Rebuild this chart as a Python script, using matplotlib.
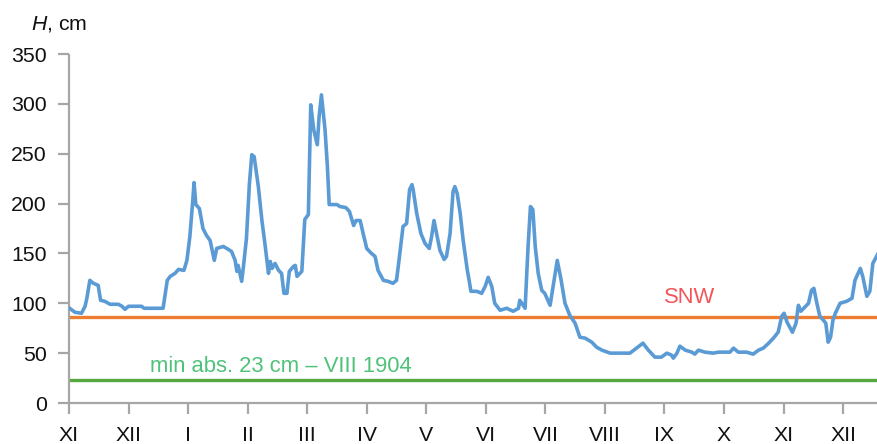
import matplotlib
matplotlib.use("Agg")
import matplotlib.pyplot as plt

plt.rcParams['font.family'] = ['Liberation Sans', 'DejaVu Sans']
plt.rcParams['mathtext.fontset'] = 'custom'
plt.rcParams['mathtext.it'] = 'Liberation Sans:italic'
plt.rcParams['mathtext.rm'] = 'Liberation Sans'

# Month labels (November of one year through December of the next)
month_labels = ["XI", "XII", "I", "II", "III", "IV", "V", "VI",
                "VII", "VIII", "IX", "X", "XI", "XII"]

# Water level H (cm); time in months elapsed since 1 November
t_month = [
    0.01, 0.10, 0.21, 0.27, 0.30, 0.35, 0.41, 0.49, 0.53, 0.60,
    0.69, 0.83, 0.89, 0.94, 1.00, 1.22, 1.26, 1.58, 1.65, 1.70,
    1.78, 1.84, 1.93, 1.98, 2.03, 2.08, 2.10, 2.13, 2.19, 2.25,
    2.31, 2.37, 2.44, 2.48, 2.59, 2.65, 2.73, 2.79, 2.82, 2.84,
    2.90, 2.93, 2.98, 3.03, 3.07, 3.11, 3.18, 3.24, 3.29, 3.35,
    3.38, 3.41, 3.46, 3.52, 3.57, 3.61, 3.66, 3.70, 3.77, 3.80,
    3.83, 3.91, 3.96, 4.02, 4.06, 4.11, 4.17, 4.20, 4.24, 4.30,
    4.34, 4.37, 4.50, 4.55, 4.65, 4.71, 4.78, 4.82, 4.89, 4.94,
    5.00, 5.08, 5.14, 5.19, 5.28, 5.36, 5.44, 5.50, 5.53, 5.61,
    5.67, 5.72, 5.76, 5.78, 5.84, 5.91, 5.98, 6.05, 6.09, 6.13,
    6.18, 6.23, 6.30, 6.34, 6.40, 6.45, 6.48, 6.52, 6.57, 6.62,
    6.69, 6.72, 6.75, 6.85, 6.93, 6.99, 7.04, 7.10, 7.15, 7.24,
    7.35, 7.46, 7.55, 7.57, 7.66, 7.71, 7.75, 7.79, 7.83, 7.88,
    7.94, 7.99, 8.08, 8.13, 8.20, 8.26, 8.33, 8.41, 8.50, 8.58,
    8.67, 8.78, 8.86, 8.95, 9.09, 9.42, 9.53, 9.64, 9.73, 9.84,
    9.95, 10.04, 10.12, 10.15, 10.21, 10.26, 10.35, 10.46, 10.51, 10.57,
    10.68, 10.82, 10.91, 11.10, 11.16, 11.24, 11.38, 11.49, 11.58, 11.66,
    11.75, 11.83, 11.91, 11.97, 12.01, 12.06, 12.15, 12.21, 12.25, 12.29,
    12.34, 12.42, 12.47, 12.51, 12.56, 12.61, 12.67, 12.71, 12.75, 12.79,
    12.83, 12.87, 12.95, 13.06, 13.15, 13.20, 13.29, 13.33, 13.40, 13.45,
    13.50, 13.58,
]
h_cm = [
    95, 91, 90, 97, 105, 123, 120, 118, 103, 102,
    99, 99, 97, 94, 97, 97, 95, 95, 123, 127,
    130, 134, 133, 143, 167, 204, 221, 199, 195, 175,
    168, 163, 143, 155, 157, 155, 152, 143, 132, 138,
    122, 137, 165, 220, 249, 247, 217, 183, 160, 130,
    142, 135, 140, 133, 130, 110, 110, 132, 137, 138,
    127, 132, 184, 189, 299, 274, 259, 287, 309, 274,
    237, 199, 199, 197, 196, 192, 178, 183, 183, 170,
    155, 150, 147, 133, 123, 122, 120, 123, 137, 177,
    180, 214, 219, 214, 190, 170, 160, 155, 167, 183,
    168, 153, 144, 147, 170, 212, 217, 210, 190, 163,
    133, 123, 112, 112, 110, 117, 126, 117, 100, 93,
    95, 92, 95, 103, 95, 157, 197, 194, 157, 130,
    113, 110, 98, 117, 143, 125, 100, 88, 80, 66,
    65, 61, 56, 53, 50, 50, 55, 60, 53, 46,
    46, 50, 48, 45, 50, 57, 53, 51, 49, 53,
    51, 50, 51, 51, 55, 51, 51, 49, 53, 55,
    60, 65, 71, 87, 90, 81, 71, 80, 98, 92,
    95, 100, 113, 115, 100, 87, 83, 80, 61, 66,
    83, 90, 100, 102, 105, 123, 135, 127, 107, 112,
    140, 149,
]

snw_level = 86        # standard navigation water level, cm
min_abs_level = 23    # absolute minimum, cm

fig = plt.figure(figsize=(8.77, 4.44), dpi=100)
ax = fig.add_axes([69 / 877, 41 / 444, 1 - 69 / 877, 349 / 444])

ax.plot(t_month, h_cm, color='#5b9bd5', lw=2.6, solid_joinstyle='round', zorder=3)
ax.axhline(snw_level, color='#ed7d31', lw=2.4, zorder=2)
ax.axhline(min_abs_level, color='#56a83e', lw=2.4, zorder=2)

ax.text(10.42, 100.6, "SNW", color='#f4555a', fontsize=15.8,
        ha='center', va='baseline')
ax.text(1.36, 30.8, "min abs. 23 cm \u2013 VIII 1904", color='#4fc27a',
        fontsize=15.8, ha='left', va='baseline')

ax.set_xlim(0, 13.57)
ax.set_ylim(0, 350)
ax.set_xticks(range(len(month_labels)))
ax.set_xticklabels(month_labels)
ax.set_yticks(range(0, 351, 50))

for side in ('top', 'right'):
    ax.spines[side].set_visible(False)
for side in ('left', 'bottom'):
    ax.spines[side].set_color('#a6a6a6')
    ax.spines[side].set_linewidth(1.6)
    ax.spines[side].set_capstyle('butt')

ax.tick_params(axis='both', direction='out', length=8, width=1.6,
               color='#a6a6a6', labelsize=15.3, labelcolor='#111111')
ax.tick_params(axis='x', pad=8.5)
ax.tick_params(axis='y', pad=8)

fig.text(31 / 877, 1 - 24 / 444, "$H$, cm", fontsize=15.3, color='#111111',
         ha='left', va='center')

fig.savefig("out.png", dpi=100)
